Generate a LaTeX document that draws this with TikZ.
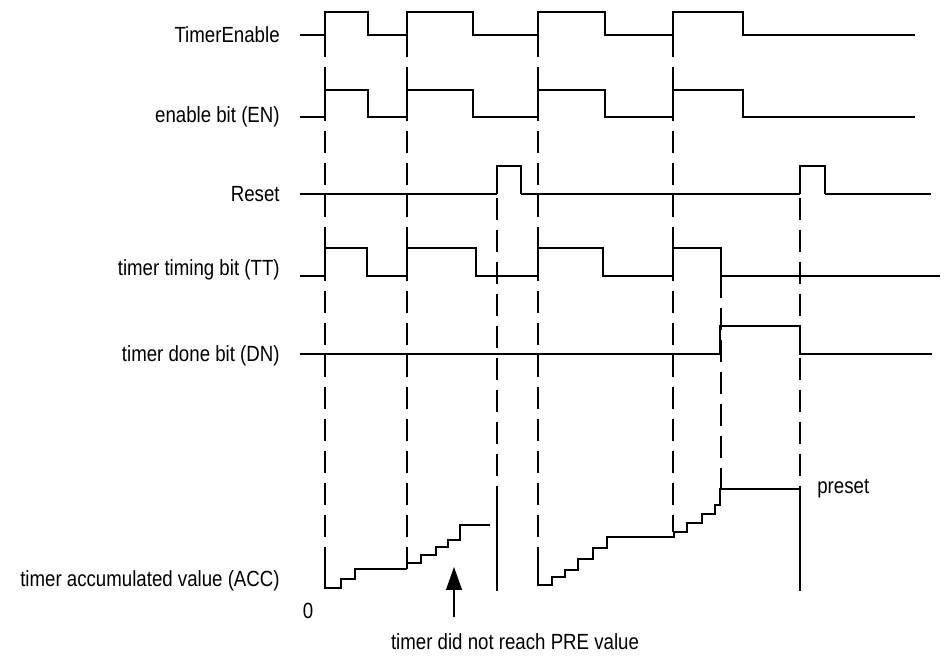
\documentclass[tikz,border=0pt]{standalone}
\usepackage{fontspec}
\setmainfont{Liberation Sans}[FakeStretch=0.85]
\usepackage{tikz}
\usetikzlibrary{arrows.meta}

\begin{document}
\begin{tikzpicture}[x=0.02cm,y=-0.02cm]
\tikzstyle{every node}=[font=\fontsize{12.5}{14}\selectfont,inner sep=0pt]
\tikzstyle{sig}=[line width=0.75pt]
\tikzstyle{sigthick}=[line width=1.5pt]
\tikzstyle{guide}=[line width=0.75pt,dash pattern=on 12.5pt off 5.7pt]
\useasboundingbox (0,0) rectangle (947,656);

% signal names
\node[anchor=east] (te) at (280,35) {TimerEnable};
\node[anchor=east] (en) at (280,117) {enable bit (EN)};
\node[anchor=east] (rst) at (280,194) {Reset};
\node[anchor=east] (tt) at (280,270) {timer timing bit (TT)};
\node[anchor=east] (dn) at (280,356) {timer done bit (DN)};
\node[anchor=east] (acc) at (280,581) {timer accumulated value (ACC)};
\node (zero) at (308,611) {0};
\node[anchor=west] (pre) at (817,489) {preset};
\node (note) at (515,642) {timer did not reach PRE value};

% dashed guides
\draw[guide] (325,35) -- (325,562);
\draw[guide,line width=1.5pt] (407,35) -- (407,573);
\draw[guide] (538,35) -- (538,563);
\draw[guide] (673,35) -- (673,532);
\draw[guide] (497,166) -- (497,502);
\draw[guide] (721,276) -- (721,489);
\draw[guide] (800,166) -- (800,489);

% TimerEnable
\draw[sig] (300,35) -- (325,35) -- (325,12) -- (368,12) -- (368,35) -- (407,35)
  -- (407,12) -- (473,12) -- (473,35) -- (538,35) -- (538,12) -- (605,12)
  -- (605,35) -- (673,35) -- (673,12) -- (743,12) -- (743,35) -- (915,35);
\draw[sigthick] (368,12) -- (368,35);
\draw[sigthick] (605,12) -- (605,35);

% enable bit
\draw[sig] (300,117) -- (325,117) -- (325,90) -- (368,90) -- (368,117) -- (407,117)
  -- (407,90) -- (473,90) -- (473,117) -- (538,117) -- (538,90) -- (605,90)
  -- (605,117) -- (673,117) -- (673,90) -- (743,90) -- (743,117) -- (915,117);
\draw[sigthick] (300,117) -- (325,117);
\draw[sigthick] (368,90) -- (368,117) -- (407,117);
\draw[sigthick] (473,117) -- (538,117);
\draw[sigthick] (605,90) -- (605,117) -- (673,117);
\draw[sigthick] (743,117) -- (915,117);

% Reset
\draw[sigthick] (300,194) -- (497,194);
\draw[sig] (497,194) -- (497,166) -- (521,166) -- (521,194);
\draw[sigthick] (521,194) -- (800,194);
\draw[sig] (800,194) -- (800,166) -- (825,166) -- (825,194);
\draw[sigthick] (825,194) -- (931,194);

% timer timing bit
\draw[sig] (300,276) -- (325,276) -- (325,248) -- (367,248) -- (367,276) -- (407,276)
  -- (407,248) -- (476,248) -- (476,276) -- (538,276) -- (538,248) -- (603,248)
  -- (603,276) -- (673,276) -- (673,248) -- (721,248) -- (721,276) -- (940,276);
\draw[sigthick] (367,248) -- (367,276);

% timer done bit
\draw[sig] (300,354) -- (720,354) -- (720,326) -- (800,326) -- (800,354) -- (932,354);
\draw[sigthick] (720,354) -- (720,326);

% accumulated value
\draw[sig] (325,562) -- (325,588) -- (341,588) -- (341,579) -- (355,579)
  -- (355,569) -- (407,569);
\draw[sigthick] (325,588) -- (341,588);
\draw[sig] (407,563) -- (421,563) -- (421,555) -- (436,555) -- (436,547)
  -- (448,547) -- (448,540) -- (460,540) -- (460,525) -- (490,525);
\draw[sigthick] (460,525) -- (490,525);
\draw[sig] (497,502) -- (497,591);
\draw[sig] (538,563) -- (538,585) -- (552,585) -- (552,577) -- (565,577)
  -- (565,570) -- (578,570) -- (578,559) -- (593,559) -- (593,548)
  -- (607,548) -- (607,537) -- (674,537) -- (674,532) -- (687,532)
  -- (687,523) -- (702,523) -- (702,514) -- (715,514) -- (715,505)
  -- (720,505) -- (720,489) -- (800,489);
\draw[sig] (800,489) -- (800,591);

% arrow to the staircase
\coordinate (tip) at (454,567);
\coordinate (stem) at (454,617);
\draw[sig,-{Triangle[width=9pt,length=13pt]}] (stem) -- (tip);
\end{tikzpicture}
\end{document}
